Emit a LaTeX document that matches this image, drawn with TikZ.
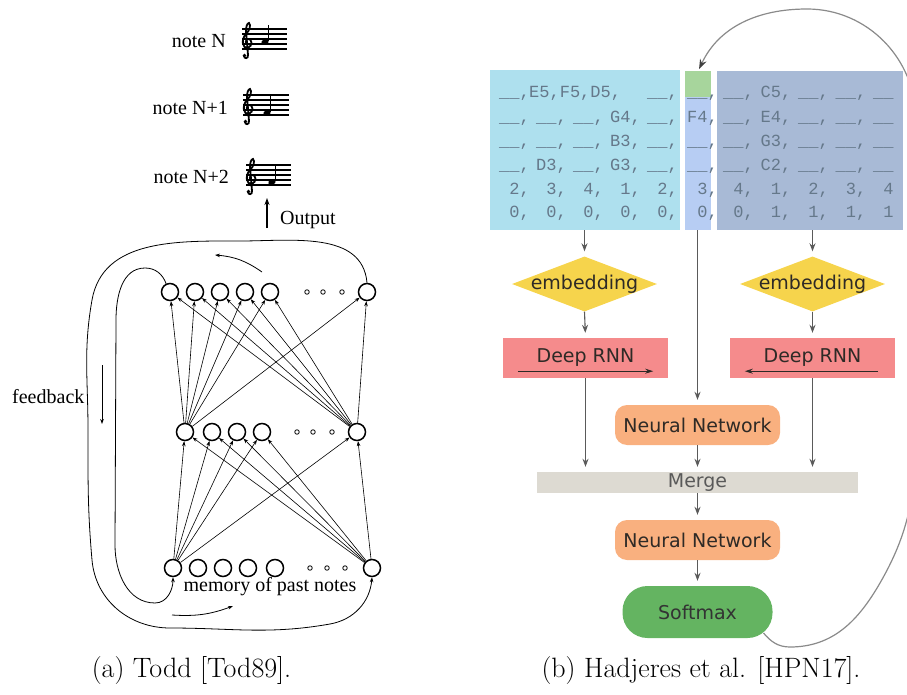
\documentclass[tikz,border=0pt]{standalone}
\usepackage{fontspec}
\usetikzlibrary{arrows.meta,shapes.geometric,calc}
\newfontfamily\serifA{Liberation Serif}
\newfontfamily\sansB{DejaVu Sans}
\newfontfamily\monoB{Liberation Mono}

\definecolor{seqcyan}{HTML}{AEE0EE}
\definecolor{seqgreen}{HTML}{A7D59C}
\definecolor{seqmid}{HTML}{B7CDF3}
\definecolor{seqright}{HTML}{A8BAD6}
\definecolor{seqink}{HTML}{65788A}
\definecolor{embedyellow}{HTML}{F6D44C}
\definecolor{rnnred}{HTML}{F58B8C}
\definecolor{nnorange}{HTML}{F9B07F}
\definecolor{mergegray}{HTML}{DDDAD2}
\definecolor{softgreen}{HTML}{64B461}
\definecolor{boxink}{HTML}{2E2A26}
\definecolor{flowgray}{HTML}{5A5A5A}
\definecolor{loopgray}{HTML}{8A8A8A}

% a five-line staff with a treble clef and one note
\newcommand\musicstaff[5]{% #1 left x, #2 top line y, #3 right x, #4 note x, #5 note y
  \foreach \k in {0,1,2,3,4} {\draw[line width=1.1pt] (#1,#2-5*\k) -- (#3,#2-5*\k);}
  \begin{scope}[shift={(#1,#2)}]
    \draw[line width=1.8pt, line cap=round]
      (6,-15) .. controls (3,-15) and (3,-11) .. (6,-10)
      .. controls (10,-9) and (11,-17) .. (6,-19)
      .. controls (0,-20) and (-1,-10) .. (4,-5)
      .. controls (8,-1) and (9,4) .. (7,6)
      .. controls (5,6) and (4,2) .. (4,-2)
      -- (6,-26) .. controls (6.5,-30) and (2,-30) .. (2,-27);
    \fill (2.5,-26.5) circle (1.9);
  \end{scope}
  \fill[rotate around={20:(#4,#5)}] (#4,#5) ellipse (3.8 and 2.8);
  \draw[line width=1.2pt] (#4+3.4,#5+0.5) -- (#4+3.4,#5+17);
}

% one row of the token table
\newcommand\leftrow[7]{%
  \node[seqtxt] (#1L1) at (499,#2) {#3};
  \node[seqtxt] (#1L2) at (536,#2) {#4};
  \node[seqtxt] (#1L3) at (573,#2) {#5};
  \node[seqtxt] (#1L4) at (610,#2) {#6};
  \node[seqtxt] (#1L5) at (647,#2) {#7};}
\newcommand\midcell[3]{\node[seqtxt] (#1M) at (687,#2) {#3};}
\newcommand\rightrow[7]{%
  \node[seqtxt] (#1R1) at (723,#2) {#3};
  \node[seqtxt] (#1R2) at (760.5,#2) {#4};
  \node[seqtxt] (#1R3) at (798,#2) {#5};
  \node[seqtxt] (#1R4) at (835.5,#2) {#6};
  \node[seqtxt] (#1R5) at (873,#2) {#7};}
\newcommand\blk{\_\_}
\newcommand\dg[1]{\phantom{0}#1}

\begin{document}
\begin{tikzpicture}[x=1pt,y=1pt,
  neuron/.style={circle, draw, line width=1.5pt, minimum size=17pt, inner sep=0pt},
  dotn/.style={circle, draw, line width=0.8pt, minimum size=4.5pt, inner sep=0pt},
  link/.style={line width=0.6pt, -{Stealth[length=5pt,width=3.6pt]}},
  fbloop/.style={line width=0.8pt, -{Stealth[length=5pt,width=3.6pt]}},
  serifl/.style={font=\serifA\fontsize{20}{24}\selectfont, inner sep=0pt},
  seqtxt/.style={font=\monoB\fontsize{17}{20}\selectfont, text=seqink, anchor=base west, inner sep=0pt},
  seqbox/.style={draw=none, inner sep=0pt, anchor=north west},
  lbl/.style={font=\sansB\fontsize{19}{22}\selectfont, text=boxink},
  flow/.style={draw=flowgray, line width=1.1pt, -{Stealth[length=8pt,width=6pt]}, shorten >=5pt},
  captext/.style={font=\fontsize{28}{32}\selectfont, anchor=base, inner sep=0pt}
]
\useasboundingbox (0,0) rectangle (907,-695);

% ---------------- (a) Todd's recurrent network ----------------
\node[serifl, anchor=east] (noteA) at (226,-41) {note N};
\node[serifl, anchor=east] (noteB) at (228,-108) {note N+1};
\node[serifl, anchor=east] (noteC) at (229,-177) {note N+2};
\musicstaff{242}{-29}{287}{265}{-42}
\musicstaff{243}{-95}{289}{267}{-113}
\musicstaff{246}{-165}{291}{272}{-182}

\coordinate (outTail) at (267,-228);
\coordinate (outTip) at (267,-198);
\draw[line width=1.3pt, -{Stealth[length=7pt,width=5pt]}] (outTail) -- (outTip);
\node[serifl, anchor=west] (outLbl) at (280,-220) {Output};

% output layer
\foreach \n/\x in {1/170,2/195,3/220,4/245,5/270,6/367}
  \node[neuron] (t\n) at (\x,-292) {};
\foreach \n/\x in {1/307,2/323,3/342}
  \node[dotn] (td\n) at (\x,-292) {};
% hidden layer
\foreach \n/\x in {1/185,2/212,3/237,4/262,5/357}
  \node[neuron] (m\n) at (\x,-432) {};
\foreach \n/\x in {1/297,2/313,3/332}
  \node[dotn] (md\n) at (\x,-432) {};
% memory layer
\foreach \n/\x in {1/173,2/198,3/223,4/248,5/275,6/372}
  \node[neuron] (b\n) at (\x,-568) {};
\foreach \n/\x in {1/310,2/327,3/345}
  \node[dotn] (bd\n) at (\x,-568) {};

\foreach \n in {1,...,6} {
  \draw[link] (m1) -- (t\n);
  \draw[link] (m5) -- (t\n);
}
\foreach \n in {1,...,5} {
  \draw[link] (b1) -- (m\n);
  \draw[link] (b6) -- (m\n);
}

% feedback loops
\draw[fbloop] (t6.north) to[out=95,in=0] (240,-241) to[out=180,in=80] (92,-300)
  to[out=-100,in=90] (88,-430) to[out=-90,in=95] (92,-560)
  to[out=-85,in=180] (170,-628) to[out=0,in=190] (330,-624)
  to[out=10,in=-95] (b6.south);
\draw[fbloop] (t1.115) to[out=110,in=0] (145,-268) to[out=180,in=90] (116,-320)
  -- (115,-545) to[out=-90,in=180] (155,-603) to[out=0,in=-90] (b1.south);

\coordinate (topArrowA) at (262,-272);
\coordinate (topArrowB) at (215,-255);
\draw[fbloop] (topArrowA) to[bend right=15] (topArrowB);
\coordinate (sideArrowA) at (102,-365);
\coordinate (sideArrowB) at (102,-424);
\draw[fbloop] (sideArrowA) -- (sideArrowB);
\coordinate (botArrowA) at (172,-615);
\coordinate (botArrowB) at (233,-606);
\draw[fbloop] (botArrowA) to[bend right=12] (botArrowB);

\node[serifl, anchor=west] (fbLbl) at (12,-397) {feedback};
\node[serifl, anchor=base] (memLbl) at (270,-591) {memory of past notes};

% ---------------- (b) DeepBach ----------------
\node[seqbox, fill=seqcyan, minimum width=190pt, minimum height=160pt] (leftseq) at (490,-70) {};
\node[seqbox, fill=seqgreen, minimum width=26pt, minimum height=26pt] (greenbox) at (685,-71) {};
\node[seqbox, fill=seqmid, minimum width=26pt, minimum height=133pt] (midcol) at (685,-97) {};
\node[seqbox, fill=seqright, minimum width=186pt, minimum height=159pt] (rightseq) at (717,-71) {};

% row 1 of the left block is set tighter
\node[seqtxt] (r1L1) at (499,-98) {\blk,};
\node[seqtxt] (r1L2) at (529,-98) {E5,F5,D5,};
\node[seqtxt] (r1L5) at (647,-98) {\blk,};
\leftrow{r2}{-123}{\blk,}{\blk,}{\blk,}{G4,}{\blk,}
\leftrow{r3}{-147}{\blk,}{\blk,}{\blk,}{B3,}{\blk,}
\leftrow{r4}{-171}{\blk,}{D3,}{\blk,}{G3,}{\blk,}
\leftrow{r5}{-195}{\dg2,}{\dg3,}{\dg4,}{\dg1,}{\dg2,}
\leftrow{r6}{-218}{\dg0,}{\dg0,}{\dg0,}{\dg0,}{\dg0,}

\midcell{r1}{-98}{\blk,}
\midcell{r2}{-123}{F4,}
\midcell{r3}{-147}{\blk,}
\midcell{r4}{-171}{\blk,}
\midcell{r5}{-195}{\dg3,}
\midcell{r6}{-218}{\dg0,}

\rightrow{r1}{-98}{\blk,}{C5,}{\blk,}{\blk,}{\blk}
\rightrow{r2}{-123}{\blk,}{E4,}{\blk,}{\blk,}{\blk}
\rightrow{r3}{-147}{\blk,}{G3,}{\blk,}{\blk,}{\blk}
\rightrow{r4}{-171}{\blk,}{C2,}{\blk,}{\blk,}{\blk}
\rightrow{r5}{-195}{\dg4,}{\dg1,}{\dg2,}{\dg3,}{\dg4}
\rightrow{r6}{-218}{\dg0,}{\dg1,}{\dg1,}{\dg1,}{\dg1}

\node[diamond, aspect=2.6, fill=embedyellow, inner sep=0pt, minimum width=145pt, minimum height=55pt, lbl] (embL) at (584.5,-284) {\makebox[0pt]{embedding}};
\node[diamond, aspect=2.6, fill=embedyellow, inner sep=0pt, minimum width=145pt, minimum height=55pt, lbl] (embR) at (812.5,-284) {\makebox[0pt]{embedding}};

\node[rectangle, fill=rnnred, minimum width=165pt, minimum height=40pt, inner sep=0pt, lbl, text depth=5pt] (rnnL) at (585.5,-358) {Deep RNN};
\node[rectangle, fill=rnnred, minimum width=165pt, minimum height=40pt, inner sep=0pt, lbl, text depth=5pt] (rnnR) at (812.5,-358) {Deep RNN};
\draw[line width=1pt, draw=boxink, -{Stealth[length=8pt,width=5pt]}] ($(rnnL.south west)+(15,7)$) -- ($(rnnL.south east)+(-15,7)$);
\draw[line width=1pt, draw=boxink, -{Stealth[length=8pt,width=5pt]}] ($(rnnR.south east)+(-17,7)$) -- ($(rnnR.south west)+(15,7)$);

\node[rectangle, rounded corners=12pt, fill=nnorange, minimum width=165pt, minimum height=40pt, inner sep=0pt, lbl] (nnA) at (697.5,-425) {Neural Network};
\node[rectangle, fill=mergegray, minimum width=321pt, minimum height=21pt, inner sep=0pt, lbl, text=black!65] (merge) at (697.5,-482.5) {Merge};
\node[rectangle, rounded corners=12pt, fill=nnorange, minimum width=165pt, minimum height=40pt, inner sep=0pt, lbl] (nnB) at (697.5,-540) {Neural Network};
\node[rectangle, rounded corners=25pt, fill=softgreen, minimum width=150pt, minimum height=52pt, inner sep=0pt, lbl, text=black!80] (soft) at (697.5,-612) {Softmax};

\draw[flow] (embL.north |- leftseq.south) -- (embL.north);
\draw[flow] (embR.north |- rightseq.south) -- (embR.north);
\draw[flow] (nnA.north |- midcol.south) -- (nnA.north);
\draw[flow] (embL.south) -- (rnnL.north);
\draw[flow] (embR.south) -- (rnnR.north);
\draw[flow] (rnnL.south) -- (rnnL.south |- merge.north);
\draw[flow] (rnnR.south) -- (rnnR.south |- merge.north);
\draw[flow] (nnA.south) -- (merge.north);
\draw[flow] (merge.south) -- (nnB.north);
\draw[flow] (nnB.south) -- (soft.north);

% sampled note fed back into the table
\draw[draw=loopgray, line width=1.2pt, -{Stealth[length=10pt,width=7pt,color=black!75]}, shorten >=2pt]
  ($(soft.center)+(66,-21)$) to[out=-50,in=180] (790,-647) to[out=0,in=-120] (880,-583)
  to[out=60,in=-90] (916,-420) -- (916,-120) to[out=90,in=0] (807,-9)
  to[out=180,in=65] (greenbox.north);

% captions
\node[captext] (capA) at (191.5,-677) {(a) Todd [Tod89].};
\node[captext] (capB) at (701,-677) {(b) Hadjeres et al. [HPN17].};
\end{tikzpicture}
\end{document}
